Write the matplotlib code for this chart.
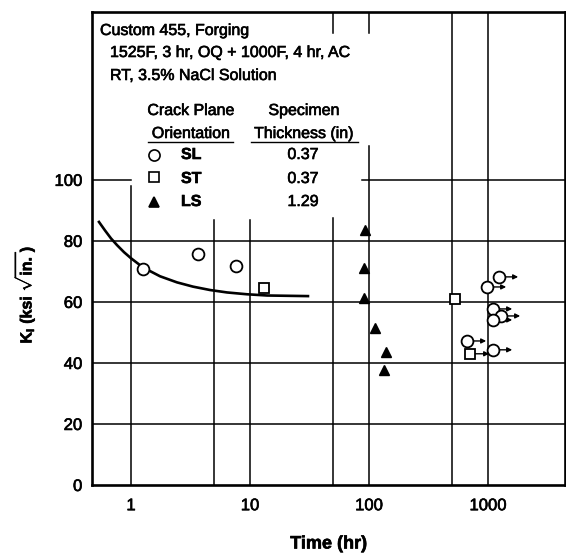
import matplotlib
matplotlib.use('Agg')
from matplotlib import pyplot as plt
from matplotlib import patheffects
from matplotlib.lines import Line2D

plt.rcParams['font.family'] = ['Liberation Sans', 'DejaVu Sans']
plt.rcParams['mathtext.fontset'] = 'custom'
plt.rcParams['mathtext.rm'] = 'Liberation Sans:bold'
plt.rcParams['mathtext.it'] = 'Liberation Sans:bold'
plt.rcParams['mathtext.bf'] = 'Liberation Sans:bold'

W, H = 566, 554

# fitted trend line
curve_t = [0.538, 0.605, 0.679, 0.763, 0.873, 1.0, 1.261, 1.753, 2.435, 3.32,
           4.61, 6.41, 9.44, 13.9, 30.7]
curve_k = [86.2, 83.4, 80.8, 78.6, 76.3, 74.3, 71.3, 68.4, 66.4, 65.0,
           63.9, 63.1, 62.5, 62.1, 61.9]

# SL orientation, 0.37 in
sl_t = [1.26, 3.66, 7.6]
sl_k = [70.8, 75.7, 71.8]
sl_run_t = [1237, 981, 1102, 1286, 1102, 666, 1102]
sl_run_k = [68.2, 64.9, 57.7, 55.4, 54.1, 47.2, 44.3]

# ST orientation, 0.37 in
st_t = [13.1, 528]
st_k = [64.6, 61.0]
st_run_t = [706]
st_run_k = [43.0]

# LS orientation, 1.29 in
ls_t = [92.5, 91, 91, 112, 139, 134]
ls_k = [83.6, 71.1, 61.3, 51.5, 43.6, 37.7]

xticks = [1, 10, 100, 1000]
yticks = [0, 20, 40, 60, 80, 100]

heavy = [patheffects.withStroke(linewidth=0.45, foreground='black')]


def fx(px):
    return px / W


def fy(py):
    return 1 - py / H


fig = plt.figure(figsize=(W / 100, H / 100), dpi=100)
ax = fig.add_axes([fx(92), fy(485), fx(565) - fx(92), fy(12) - fy(485)])
ax.set_xscale('log')
ax.set_xlim(0.47, 4440)
ax.set_ylim(0, 155)

# grid, broken where the notes sit
gkw = dict(color='black', lw=1.1, zorder=1)
vlines = [(1, 0, 98), (5, 0, 87), (10, 0, 87), (50, 0, 87.5), (100, 0, 111),
          (500, 0, 155), (1000, 0, 155)]
for x, y0, y1 in vlines:
    ax.plot([x, x], [y0, y1], **gkw)
for x in [50, 100]:
    ax.plot([x, x], [148, 155], **gkw)
for y in [20, 40, 60, 80]:
    ax.axhline(y, **gkw)
ax.plot([0.47, 1], [100, 100], **gkw)
ax.plot([87, 4440], [100, 100], **gkw)

ax.plot(curve_t, curve_k, color='black', lw=1.9, zorder=2,
        solid_joinstyle='round')

mk = dict(linestyle='none', zorder=3)
ax.plot(sl_t + sl_run_t, sl_k + sl_run_k, marker='o', ms=8.5, mfc='white',
        mec='black', mew=1.3, **mk)
ax.plot(st_t + st_run_t, st_k + st_run_k, marker='s', ms=7.5, mfc='white',
        mec='black', mew=1.3, **mk)
ax.plot(ls_t, ls_k, marker='^', ms=6.5, mfc='black', mec='black', **mk)

# run-out arrows
for t, k in zip(sl_run_t + st_run_t, sl_run_k + st_run_k):
    ax.annotate('', xy=(t * 1.45, k), xytext=(t * 1.1, k),
                arrowprops=dict(arrowstyle='-|>', color='black', lw=1.0,
                                mutation_scale=7, shrinkA=0, shrinkB=0),
                zorder=2)

ax.set_xticks(xticks)
ax.set_xticklabels([str(v) for v in xticks])
ax.set_yticks(yticks)
ax.minorticks_off()
ax.tick_params(length=0, labelsize=12)
ax.tick_params(axis='x', pad=9.5)
ax.tick_params(axis='y', pad=7)
for lab in ax.get_xticklabels() + ax.get_yticklabels():
    lab.set_path_effects(heavy)
for s in ax.spines.values():
    s.set_linewidth(1.9)

ax.set_xlabel('Time (hr)', fontsize=13, fontweight='bold', va='center',
              path_effects=heavy)
ax.xaxis.set_label_coords(0.5, -(544 - 485) / 473)
ax.set_ylabel(r'$K_I\ (ksi\ \sqrt{in.})$', fontsize=11.5, va='center',
              path_effects=heavy)
ax.yaxis.set_label_coords(-(92 - 25) / 473, (485 - 295) / 473)

# notes block
tkw = dict(fontsize=11.5, transform=fig.transFigure, va='baseline',
           path_effects=heavy)
fig.text(fx(100), fy(35), 'Custom 455, Forging', ha='left', **tkw)
fig.text(fx(110), fy(57), '1525F, 3 hr, OQ + 1000F, 4 hr, AC', ha='left', **tkw)
fig.text(fx(110), fy(80), 'RT, 3.5% NaCl Solution', ha='left', **tkw)
fig.text(fx(191), fy(115), 'Crack Plane', ha='center', **tkw)
fig.text(fx(191), fy(138), 'Orientation', ha='center', **tkw)
fig.text(fx(304), fy(115), 'Specimen', ha='center', **tkw)
fig.text(fx(304), fy(138), 'Thickness (in)', ha='center', **tkw)
fig.add_artist(Line2D([fx(148), fx(233)], [fy(142), fy(142)], color='black', lw=1.0))
fig.add_artist(Line2D([fx(251), fx(358)], [fy(142), fy(142)], color='black', lw=1.0))

rows = [('o', 'white', 'SL', '0.37', 155, 159, 8),
        ('s', 'white', 'ST', '0.37', 177, 183, 7),
        ('^', 'black', 'LS', '1.29', 202, 206, 6.5)]
for m, fc, name, thick, ym, yb, size in rows:
    fig.add_artist(Line2D([fx(154)], [fy(ym)], marker=m, ms=size, mfc=fc,
                          mec='black', mew=1.2, linestyle='none'))
    fig.text(fx(181), fy(yb), name, ha='left', fontweight='bold', **tkw)
    fig.text(fx(303), fy(yb), thick, ha='center', **tkw)

fig.savefig('out.png', dpi=100)
